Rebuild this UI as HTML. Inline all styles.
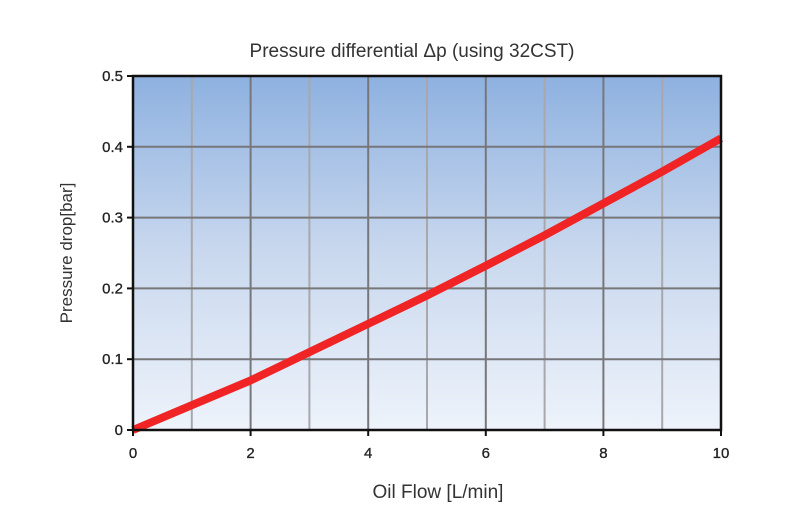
<!DOCTYPE html>
<html><head><meta charset="utf-8"><style>
html,body{margin:0;padding:0;background:#fff;}
svg{display:block;font-family:"Liberation Sans",sans-serif;}
</style></head><body>
<svg id="chart" width="800" height="530" viewBox="0 0 800 530">
<defs><linearGradient id="bg" x1="0" y1="0" x2="0" y2="1">
<stop offset="0" stop-color="#8eb1e0"/><stop offset="0.5" stop-color="#c9d8ee"/><stop offset="1" stop-color="#eef3fb"/></linearGradient></defs>
<text x="412" y="57" text-anchor="middle" font-size="19" fill="#333">Pressure differential Δp (using 32CST)</text>
<rect x="133" y="76" width="588" height="354" fill="url(#bg)"/>
<g id="grid"></g>
<g id="series"></g>
<rect x="133" y="76" width="588" height="354" fill="none" stroke="#111" stroke-width="2.5"/>
<g id="ticks"></g>
<text x="438" y="498" text-anchor="middle" font-size="19" fill="#333">Oil Flow [L/min]</text>
<text transform="translate(72,253) rotate(-90)" text-anchor="middle" font-size="17" fill="#333">Pressure drop[bar]</text>
</svg>
<script>
const xValues=[0,1,2,3,4,5,6,7,8,9,10];
const pressureValues=[0,0.035,0.07,0.11,0.15,0.19,0.232,0.275,0.32,0.365,0.412];
const xTickLabels=[0,2,4,6,8,10];
const yTickLabels=[0,0.1,0.2,0.3,0.4,0.5];
const NS="http://www.w3.org/2000/svg";
const X0=133,X1=721,Y0=430,Y1=76;
function sx(v){return X0+(v-0)/(10-0)*(X1-X0);}
function sy(v){return Y0-(v-0)/(0.5-0)*(Y0-Y1);}
function mk(tag,attrs,parent){const e=document.createElementNS(NS,tag);for(const k in attrs)e.setAttribute(k,attrs[k]);parent.appendChild(e);return e;}
const grid=document.getElementById('grid'),ticks=document.getElementById('ticks'),series=document.getElementById('series');
for(let i=1;i<10;i++){
 const l=mk('line',{x1:sx(i),x2:sx(i),y1:Y1,y2:Y0,stroke:i%2?'#a8a8ac':'#77777a','stroke-width':2},grid);
 
 
}
yTickLabels.forEach(v=>{
 if(v>0&&v<0.5){const l=mk('line',{x1:X0,x2:X1,y1:sy(v),y2:sy(v),stroke:'#77777a','stroke-width':2},grid);
 
 }
 const t=mk('line',{x1:X0-6,x2:X0,y1:sy(v),y2:sy(v),stroke:'#111','stroke-width':2},ticks);
 
 
 const tx=mk('text',{x:X0-10,y:sy(v)+5,'text-anchor':'end','font-size':15,fill:'#222','stroke':'#222','stroke-width':0.3},ticks);
 tx.textContent=String(v);
 
 
});
xTickLabels.forEach(v=>{
 const t=mk('line',{x1:sx(v),x2:sx(v),y1:Y0,y2:Y0+6,stroke:'#111','stroke-width':2},ticks);
 
 
 const tx=mk('text',{x:sx(v),y:Y0+28,'text-anchor':'middle','font-size':15,fill:'#222','stroke':'#222','stroke-width':0.3},ticks);
 tx.textContent=String(v);
 
 
});
const pts=xValues.map((x,i)=>sx(x)+','+sy(pressureValues[i])).join(' ');
const pl=mk('polyline',{points:pts,fill:'none',stroke:'#f02424','stroke-width':8,'stroke-linejoin':'round'},series);


</script>
</body></html>
